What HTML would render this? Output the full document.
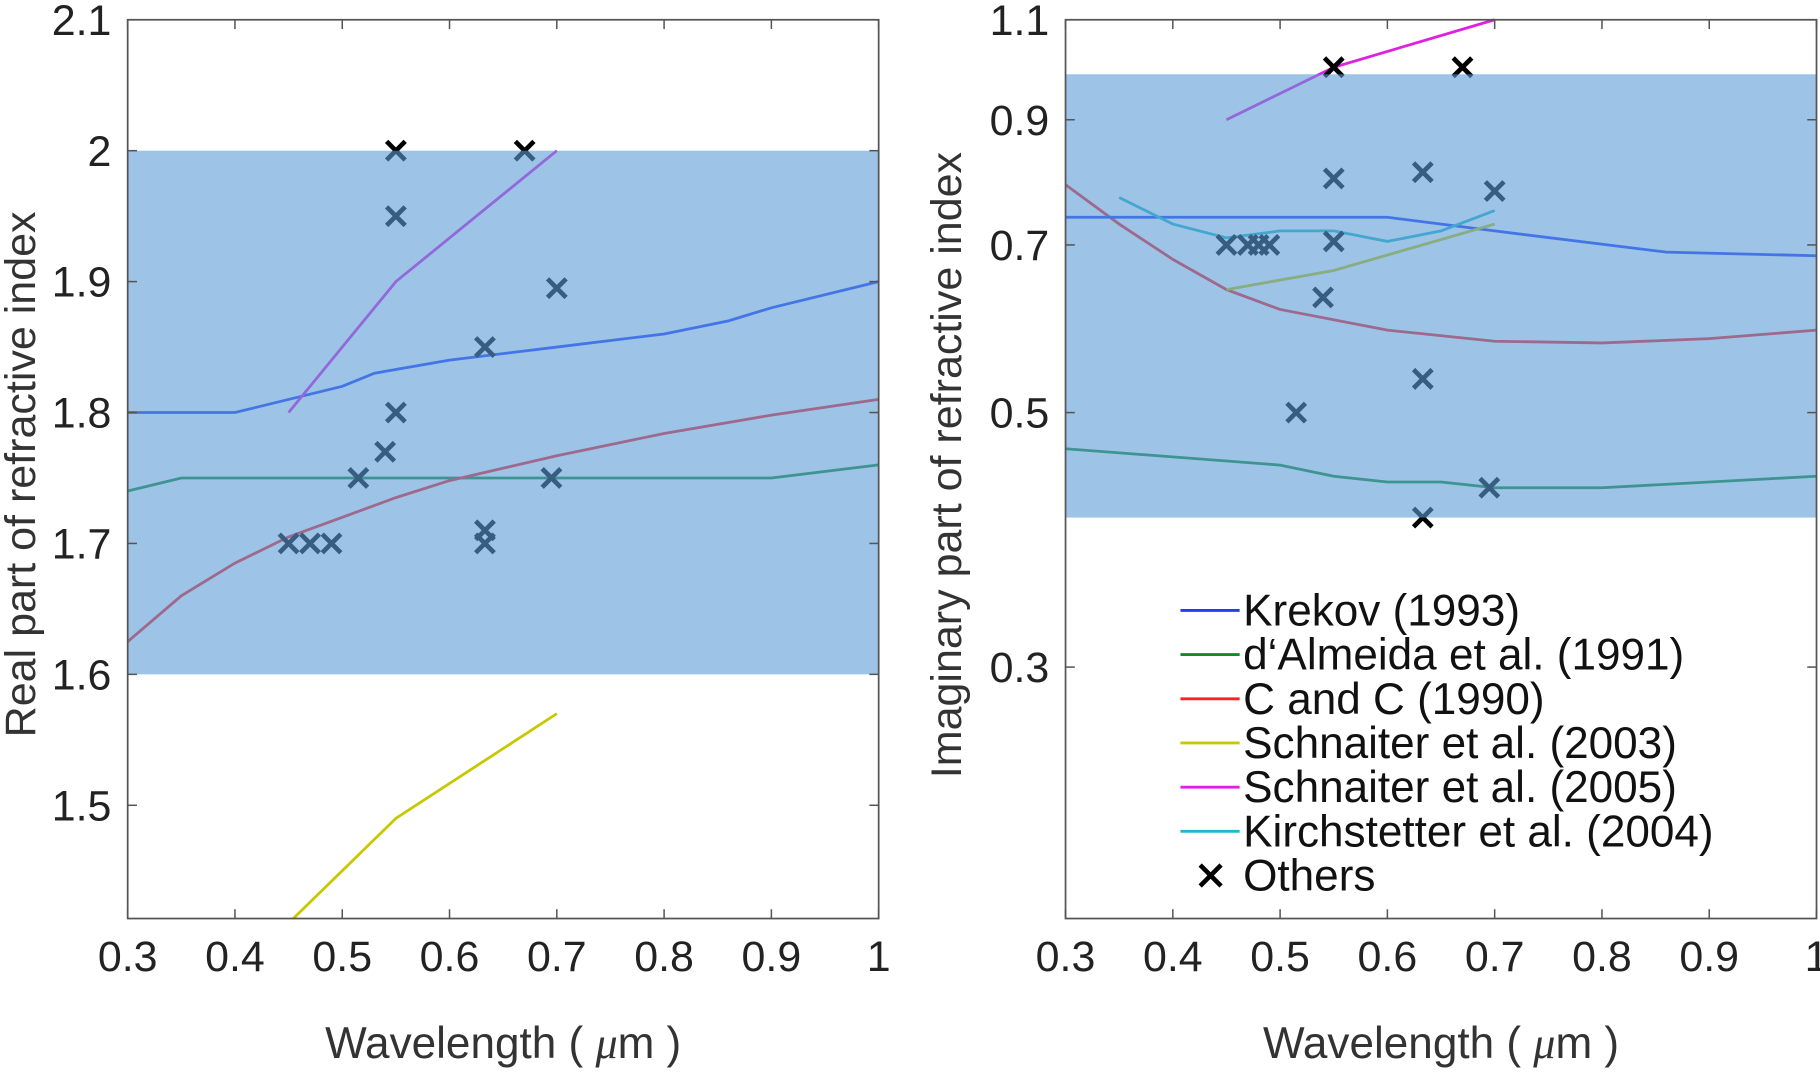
<!DOCTYPE html>
<html><head><meta charset="utf-8"><style>
html,body{margin:0;padding:0;background:#fff;}
svg{display:block;font-family:"Liberation Sans",sans-serif;}
</style></head><body>
<svg id="chart" width="1820" height="1072" viewBox="0 0 1568 922" preserveAspectRatio="none" xmlns="http://www.w3.org/2000/svg"></svg>
<script>
// ---- Left panel data (real part) ----
const xTicks = [0.3,0.4,0.5,0.6,0.7,0.8,0.9,1];
const xTickLabels = ["0.3","0.4","0.5","0.6","0.7","0.8","0.9","1"];
const leftYTicks = [1.5,1.6,1.7,1.8,1.9,2.0,2.1];
const leftYTickLabels = ["1.5","1.6","1.7","1.8","1.9","2","2.1"];
const leftBand = [1.6, 2.0];
const leftKrekovX = [0.3,0.4,0.5,0.53,0.6,0.7,0.8,0.86,0.9,1.0];
const leftKrekovY = [1.8,1.8,1.82,1.83,1.84,1.85,1.86,1.87,1.88,1.9];
const leftAlmeidaX = [0.3,0.35,0.9,1.0];
const leftAlmeidaY = [1.74,1.75,1.75,1.76];
const leftCCX = [0.3,0.35,0.4,0.45,0.5,0.55,0.6,0.7,0.8,0.9,1.0];
const leftCCY = [1.625,1.66,1.685,1.705,1.72,1.735,1.748,1.767,1.784,1.798,1.81];
const leftS03X = [0.45,0.55,0.7];
const leftS03Y = [1.41,1.49,1.57];
const leftS05X = [0.45,0.55,0.7];
const leftS05Y = [1.8,1.9,2.0];
const leftOthersX = [0.45,0.47,0.49,0.515,0.54,0.55,0.55,0.55,0.633,0.633,0.633,0.67,0.7,0.695];
const leftOthersY = [1.7,1.7,1.7,1.75,1.77,1.8,1.95,2.0,1.85,1.71,1.7,2.0,1.895,1.75];
// ---- Right panel data (imaginary part, log axis) ----
const rightYTicks = [0.3,0.5,0.7,0.9,1.1];
const rightYTickLabels = ["0.3","0.5","0.7","0.9","1.1"];
const rightBand = [0.405, 0.986];
const rightKrekovX = [0.3,0.6,0.7,0.86,1.0];
const rightKrekovY = [0.74,0.74,0.72,0.69,0.685];
const rightAlmeidaX = [0.3,0.5,0.55,0.6,0.65,0.7,0.8,1.0];
const rightAlmeidaY = [0.465,0.45,0.44,0.435,0.435,0.43,0.43,0.44];
const rightCCX = [0.3,0.35,0.4,0.45,0.5,0.6,0.7,0.8,0.9,1.0];
const rightCCY = [0.79,0.73,0.68,0.64,0.615,0.59,0.577,0.575,0.58,0.59];
const rightS03X = [0.45,0.55,0.7];
const rightS03Y = [0.64,0.665,0.73];
const rightS05X = [0.45,0.55,0.7];
const rightS05Y = [0.9,1.0,1.1];
const rightKirX = [0.35,0.4,0.45,0.5,0.55,0.6,0.65,0.7];
const rightKirY = [0.77,0.73,0.71,0.72,0.72,0.705,0.72,0.75];
const rightOthersX = [0.45,0.47,0.48,0.49,0.515,0.54,0.55,0.55,0.55,0.633,0.633,0.633,0.67,0.7,0.695];
const rightOthersY = [0.7,0.7,0.7,0.7,0.5,0.63,0.8,0.705,1.0,0.81,0.535,0.405,1.0,0.78,0.43];
const legendLabels = ["Krekov (1993)","d‘Almeida et al. (1991)","C and C (1990)","Schnaiter et al. (2003)","Schnaiter et al. (2005)","Kirchstetter et al. (2004)","Others"];

const NS="http://www.w3.org/2000/svg";
const svg=document.getElementById('chart');
function mk(tag,attrs,parent){const e=document.createElementNS(NS,tag);for(const k in attrs)e.setAttribute(k,attrs[k]);(parent||svg).appendChild(e);return e;}

const C={blue:"#1f3cff",green:"#118a2e",red:"#ff2020",yellow:"#c8c800",mag:"#e020e0",cyan:"#20b8c8"};

function panel(o){
  const g=mk('g',{});
  
  
  const X=v=>o.x0+(v-0.3)/0.7*(o.x1-o.x0);
  const Y=o.Y;
  const clip='clip-'+o.name;
  const cp=mk('clipPath',{id:clip},g);mk('rect',{x:o.x0,y:o.y0-12,width:o.x1-o.x0,height:o.y1-o.y0+12},cp);
  const plot=mk('g',{'clip-path':'url(#'+clip+')'},g);
  function line(xs,ys,col,name){
    const p=mk('polyline',{points:xs.map((x,i)=>X(x)+','+Y(ys[i])).join(' '),fill:'none',stroke:col,'stroke-width':2.4},plot);
    
    
  }
  o.lines.forEach(l=>line(l[0],l[1],l[2],l[3]));
  const mg=mk('g',{},plot);
  
  
  o.ox.forEach((x,i)=>{const cx=X(x),cy=Y(o.oy[i]),s=8;
    const m=mk('path',{d:`M${cx-s},${cy-s}L${cx+s},${cy+s}M${cx-s},${cy+s}L${cx+s},${cy-s}`,stroke:'#000','stroke-width':4},mg);
    
    });
  const band=mk('rect',{x:o.x0,y:Y(o.band[1]),width:o.x1-o.x0,height:Y(o.band[0])-Y(o.band[1]),fill:'rgb(92,155,213)','fill-opacity':0.6},plot);
  
  
  mk('rect',{x:o.x0,y:o.y0,width:o.x1-o.x0,height:o.y1-o.y0,fill:'none',stroke:'#555','stroke-width':1.5},g);
  xTicks.forEach((t,i)=>{const x=X(t);
    mk('line',{x1:x,x2:x,y1:o.y1,y2:o.y1-8,stroke:'#555','stroke-width':1.3},g);
    mk('line',{x1:x,x2:x,y1:o.y0,y2:o.y0+8,stroke:'#555','stroke-width':1.3},g);
    const tx=mk('text',{x:x,y:o.y1+45,'font-size':37,'text-anchor':'middle',fill:'#222'},g);tx.textContent=xTickLabels[i];
    
    });
  o.yt.forEach((t,i)=>{const y=Y(t);if(y<o.y0-1||y>o.y1+1)return;
    mk('line',{x1:o.x0,x2:o.x0+8,y1:y,y2:y,stroke:'#555','stroke-width':1.3},g);
    mk('line',{x1:o.x1,x2:o.x1-8,y1:y,y2:y,stroke:'#555','stroke-width':1.3},g);
    const ty=mk('text',{x:o.x0-14,y:y+13,'font-size':37,'text-anchor':'end',fill:'#222'},g);ty.textContent=o.ytl[i];
    
    });
  const xt=mk('text',{x:(o.x0+o.x1)/2,y:910,'font-size':38,'text-anchor':'middle',fill:'#333'},g);
  xt.innerHTML='Wavelength ( <tspan font-family="Liberation Serif" font-style="italic">μ</tspan>m )';
  
  
  const yt=mk('text',{x:0,y:0,'font-size':37,'text-anchor':'middle',fill:'#333',transform:`translate(${o.ylx},${o.yly}) rotate(-90)`},g);
  yt.textContent=o.ylab;
  
  
  return g;
}

const ly=v=>17+(2.1-v)/0.1*112.6;
panel({name:'real-part-panel',x0:110,x1:757,y0:17,y1:790,Y:ly,band:leftBand,yt:leftYTicks,ytl:leftYTickLabels,
  ylab:'Real part of refractive index',ylx:30,yly:408,ox:leftOthersX,oy:leftOthersY,
  lines:[[leftAlmeidaX,leftAlmeidaY,C.green,'almeida-line'],[leftCCX,leftCCY,C.red,'cc-line'],[leftKrekovX,leftKrekovY,C.blue,'krekov-line'],
         [leftS03X,leftS03Y,C.yellow,'schnaiter2003-line'],[leftS05X,leftS05Y,C.mag,'schnaiter2005-line']]});
const ry=v=>17+(Math.log(1.1)-Math.log(v))*428.5;
panel({name:'imaginary-part-panel',x0:918,x1:1565,y0:17,y1:790,Y:ry,band:rightBand,yt:rightYTicks,ytl:rightYTickLabels,
  ylab:'Imaginary part of refractive index',ylx:828,yly:400,ox:rightOthersX,oy:rightOthersY,
  lines:[[rightAlmeidaX,rightAlmeidaY,C.green,'almeida-line'],[rightCCX,rightCCY,C.red,'cc-line'],[rightKrekovX,rightKrekovY,C.blue,'krekov-line'],
         [rightS03X,rightS03Y,C.yellow,'schnaiter2003-line'],[rightS05X,rightS05Y,C.mag,'schnaiter2005-line'],[rightKirX,rightKirY,C.cyan,'kirchstetter-line']]});

const leg=mk('g',{});


const legCols=[C.blue,C.green,C.red,C.yellow,C.mag,C.cyan,null];
legendLabels.forEach((lab,i)=>{const y=525+i*38;
  const e=mk('g',{},leg);
  
  
  if(legCols[i]) mk('line',{x1:1017,x2:1068,y1:y,y2:y,stroke:legCols[i],'stroke-width':2.5},e);
  else mk('path',{d:`M${1034},${y-9}L${1052},${y+9}M${1034},${y+9}L${1052},${y-9}`,stroke:'#000','stroke-width':4},e);
  const t=mk('text',{x:1071,y:y+13,'font-size':38,fill:'#111'},e);t.textContent=lab;});
</script>
</body></html>
